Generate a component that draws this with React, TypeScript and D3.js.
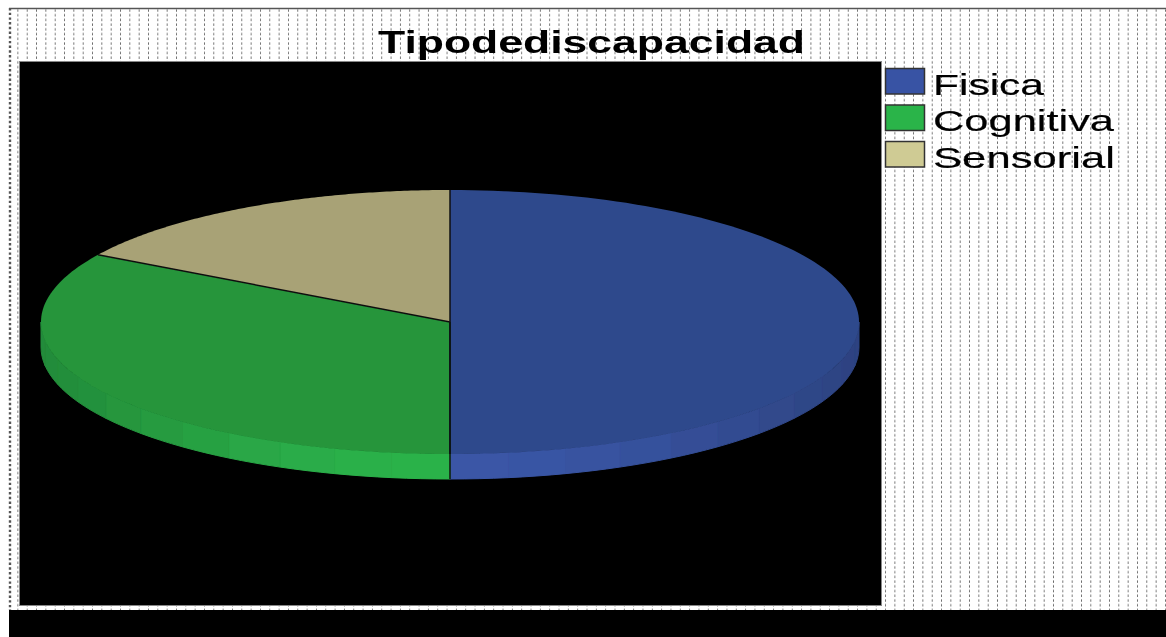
import * as d3 from "d3";

const title = "Tipodediscapacidad";
const categories = ["Fisica", "Cognitiva", "Sensorial"];
const values = [50, 33.5, 16.5];
const topColors = ["#2f4a8c", "#25953b", "#a8a276"];
const sideColors = ["#3a56a6", "#2cb24a", "#cfcb94"];
const legendColors = ["#3953a4", "#2bb44a", "#cfcb94"];
const legendWidths = [111, 181, 182];

const width = 1166;
const height = 637;
const depth = 25;

const xPie = d3.scaleLinear().domain([-1, 1]).range([41, 859]);
const yPie = d3.scaleLinear().domain([-1, 1]).range([190, 454]);
const legendY = d3.scalePoint<string>().domain(categories).range([68, 141]);

const slices = d3.pie<number>().sort(null).startAngle(0).endAngle(2 * Math.PI)(values);

const px = (a: number) => xPie(Math.sin(a));
const py = (a: number) => yPie(-Math.cos(a));

// angles between a and b, evenly stepped
const sample = (a: number, b: number, n: number) => d3.range(n + 1).map((i) => a + ((b - a) * i) / n);

const line = d3.line<[number, number]>();

function topPath(a: number, b: number) {
  const pts: [number, number][] = sample(a, b, 120).map((t) => [px(t), py(t)]);
  return line([[xPie(0), yPie(0)], ...pts]) + "Z";
}

// wall of the disc, cut in small facets like the original renderer
function facets(a: number, b: number) {
  const lo = Math.max(a, Math.PI / 2);
  const hi = Math.min(b, (3 * Math.PI) / 2);
  if (hi <= lo) return [];
  const n = Math.max(1, Math.round((hi - lo) / 0.14));
  const ts = sample(lo, hi, n);
  return ts.slice(0, -1).map((t, i) => {
    const next = ts[i + 1];
    const inner = sample(t, next, 4);
    const pts: [number, number][] = [
      ...inner.map((q) => [px(q), py(q)] as [number, number]),
      ...inner.reverse().map((q) => [px(q), py(q) + depth] as [number, number]),
    ];
    return { d: line(pts) + "Z", shade: -Math.cos((t + next) / 2) };
  });
}

function wallColor(base: string, shade: number) {
  return d3.interpolateRgb(d3.color(base)!.darker(0.7).formatHex(), base)(Math.pow(shade, 2.5));
}

export default function App() {
  return (
    <svg
      width={width}
      height={height}
      style={{ position: "absolute", left: 0, top: 0, display: "block", background: "#fff" }}
    >
      <defs>
        <pattern id="dots" x={9} y={8} width={9.33} height={4.72} patternUnits="userSpaceOnUse">
          <rect x={8.4} y={1.3} width={2.4} height={2.4} fill="#6a6a6a" />
        </pattern>
        <filter id="soft" x="-5%" y="-5%" width="110%" height="110%">
          <feGaussianBlur stdDeviation="0.6" />
        </filter>
      </defs>

      <g filter="url(#soft)">
        <rect x={10} y={9} width={width - 10} height={601} fill="url(#dots)" />
        <line x1={9} x2={width} y1={8.5} y2={8.5} stroke="#555" strokeWidth={1.5} />
        <line x1={10} x2={10} y1={8} y2={610} stroke="#555" strokeWidth={2.4} strokeDasharray="2.4 2.3" />
      </g>

      <rect x={9} y={610} width={width - 9} height={27} fill="#000" />
      <rect x={19} y={61} width={863} height={545} fill="#888" filter="url(#soft)" />
      <rect x={20} y={62} width={861} height={543} fill="#000" />

      <g filter="url(#soft)">
        {slices.map((s, i) =>
          facets(s.startAngle, s.endAngle).map((f, j) => {
            const c = wallColor(sideColors[i], f.shade);
            return <path key={`${i}-${j}`} d={f.d} fill={c} stroke={c} strokeWidth={1} />;
          })
        )}
        {slices.map((s, i) => (
          <path key={categories[i]} d={topPath(s.startAngle, s.endAngle)} fill={topColors[i]} />
        ))}
        {slices.map((s, i) => (
          <line
            key={i}
            x1={xPie(0)}
            y1={yPie(0)}
            x2={px(s.startAngle)}
            y2={py(s.startAngle)}
            stroke="#111"
            strokeWidth={1.5}
          />
        ))}
        <line x1={xPie(0)} x2={xPie(0)} y1={yPie(0)} y2={yPie(1) + depth} stroke="#111" strokeWidth={1.5} />
      </g>

      <g filter="url(#soft)">
        <text
          x={378}
          y={53}
          fontFamily="Liberation Sans"
          fontWeight="bold"
          fontSize={31}
          textLength={427}
          lengthAdjust="spacingAndGlyphs"
          fill="#000"
        >
          {title}
        </text>
        {categories.map((c, i) => (
          <g key={c}>
            <rect
              x={885.5}
              y={legendY(c)! + 0.5}
              width={39}
              height={25.5}
              fill={legendColors[i]}
              stroke="#333"
              strokeWidth={1.5}
            />
            <text
              x={933}
              y={legendY(c)! + 26.5}
              fontFamily="Liberation Sans"
              fontSize={30}
              textLength={legendWidths[i]}
              lengthAdjust="spacingAndGlyphs"
              fill="#000"
              stroke="#000"
              strokeWidth={0.2}
            >
              {c}
            </text>
          </g>
        ))}
      </g>
    </svg>
  );
}
